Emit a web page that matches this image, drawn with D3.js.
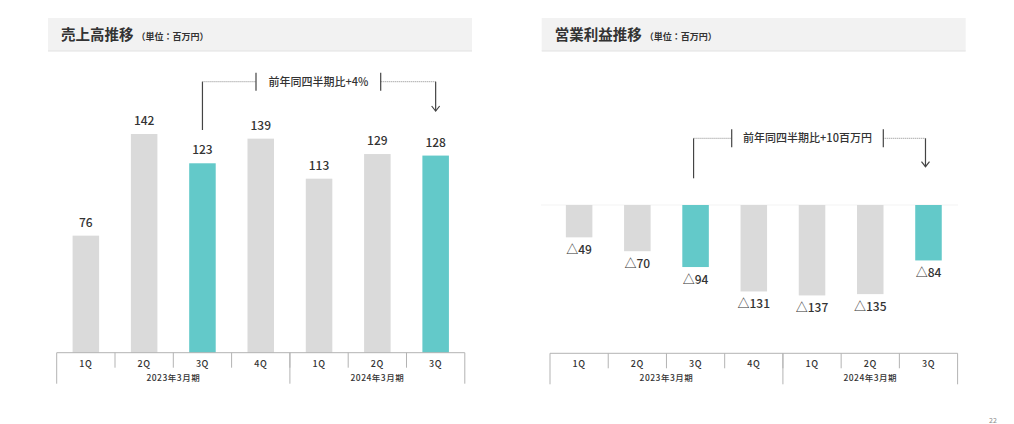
<!DOCTYPE html>
<html>
<head>
<meta charset="utf-8">
<script src="https://cdn.jsdelivr.net/npm/d3@7"></script>
<style>
  body { margin: 0; background: #fff; }
  svg text { font-family: "Noto Sans CJK JP", "Noto Sans", sans-serif; fill: #333; }
</style>
</head>
<body>
<svg id="chart" width="1014" height="424"></svg>
<script>
const quarters = ['1Q', '2Q', '3Q', '4Q', '1Q', '2Q', '3Q'];
const fiscalYears = ['2023年3月期', '2024年3月期'];
const fiscalYearQuarterCounts = [4, 3];
const sales = [76, 142, 123, 139, 113, 129, 128];
const operatingIncome = [-49, -70, -94, -131, -137, -135, -84];
const highlighted = [2, 6];

const grayBar = "#dadada";
const tealBar = "#63c9c9";
const axisColor = "#b3b3b3";

const svg = d3.select("#chart");

function drawHeader(x0, x1, title, unit) {
    const g = svg.append("g");
    g.append("rect")
        .attr("x", x0).attr("y", 18)
        .attr("width", x1 - x0).attr("height", 33)
        .attr("fill", "#f2f2f2");
    g.append("line")
        .attr("x1", x0).attr("x2", x1)
        .attr("y1", 51).attr("y2", 51)
        .attr("stroke", "#e2e2e2").attr("stroke-width", 1.2);
    const t = g.append("text")
        .attr("x", x0 + 13).attr("y", 40);
    t.append("tspan")
        .style("font-size", "14.5px").style("font-weight", "bold")
        .text(title);
    t.append("tspan")
        .attr("dx", 3)
        .style("font-size", "9px").style("font-weight", "bold")
        .text(unit);
}

function drawCategoryAxis(x, axisY) {
    const g = svg.append("g");
    const [r0, r1] = x.range();
    g.append("line")
        .attr("x1", r0).attr("x2", r1)
        .attr("y1", axisY).attr("y2", axisY)
        .attr("stroke", axisColor).attr("stroke-width", 1);

    // small separators between quarters
    quarters.forEach((q, i) => {
        if (i === 0) return;
        g.append("line")
            .attr("x1", x(i)).attr("x2", x(i))
            .attr("y1", axisY).attr("y2", axisY + 15)
            .attr("stroke", axisColor);
    });

    // long separators at fiscal-year borders
    let start = 0;
    const borders = [0];
    fiscalYearQuarterCounts.forEach(c => { start += c; borders.push(start); });
    borders.forEach(b => {
        const bx = b === quarters.length ? r1 : x(b);
        g.append("line")
            .attr("x1", bx).attr("x2", bx)
            .attr("y1", axisY).attr("y2", axisY + 31)
            .attr("stroke", axisColor);
    });

    g.selectAll(".q-label")
        .data(quarters)
        .enter()
        .append("text")
        .attr("class", "q-label")
        .attr("x", (d, i) => x(i) + x.bandwidth() / 2)
        .attr("y", axisY + 14)
        .attr("text-anchor", "middle")
        .style("font-size", "9px")
        .style("font-weight", "500")
        .style("letter-spacing", "0.6px")
        .text(d => d);

    fiscalYears.forEach((fy, i) => {
        const a = borders[i];
        const b = borders[i + 1];
        const xa = x(a);
        const xb = b === quarters.length ? r1 : x(b);
        g.append("text")
            .attr("x", (xa + xb) / 2)
            .attr("y", axisY + 28)
            .attr("text-anchor", "middle")
            .style("font-size", "8.5px")
            .style("font-weight", "500")
            .style("letter-spacing", "0.5px")
            .text(fy);
    });
}

function drawAnnotation(xFrom, xTo, lineY, leftBottom, arrowBottom, tick1, tick2, label) {
    const g = svg.append("g");
    g.append("line")
        .attr("x1", xFrom).attr("x2", xFrom)
        .attr("y1", lineY).attr("y2", leftBottom)
        .attr("stroke", "#444").attr("stroke-width", 1.2);
    g.append("line")
        .attr("x1", xFrom).attr("x2", tick1)
        .attr("y1", lineY).attr("y2", lineY)
        .attr("stroke", "#888").attr("stroke-width", 1)
        .attr("stroke-dasharray", "1,1");
    g.append("line")
        .attr("x1", tick2).attr("x2", xTo)
        .attr("y1", lineY).attr("y2", lineY)
        .attr("stroke", "#888").attr("stroke-width", 1)
        .attr("stroke-dasharray", "1,1");
    [tick1, tick2].forEach(tx => {
        g.append("line")
            .attr("x1", tx).attr("x2", tx)
            .attr("y1", lineY - 9).attr("y2", lineY + 9)
            .attr("stroke", "#444").attr("stroke-width", 1.2);
    });
    g.append("line")
        .attr("x1", xTo).attr("x2", xTo)
        .attr("y1", lineY).attr("y2", arrowBottom)
        .attr("stroke", "#444").attr("stroke-width", 1.2);
    g.append("path")
        .attr("d", `M${xTo - 4},${arrowBottom - 5} L${xTo},${arrowBottom} L${xTo + 4},${arrowBottom - 5}`)
        .attr("fill", "none")
        .attr("stroke", "#444").attr("stroke-width", 1.2);
    g.append("text")
        .attr("x", (tick1 + tick2) / 2)
        .attr("y", lineY + 4)
        .attr("text-anchor", "middle")
        .style("font-size", "11px")
        .style("font-weight", "500")
        .text(label);
}

// ---- left chart: sales ----
drawHeader(48, 472, "売上高推移", "（単位：百万円）");

const xL = d3.scaleBand()
    .domain(d3.range(quarters.length))
    .range([56.7, 464.8])
    .padding(0);
const yL = d3.scaleLinear()
    .domain([0, 150])
    .range([352.7, 352.7 - 150 * 1.54]);

const barW = xL.bandwidth() * 0.455;

svg.append("g").selectAll("rect")
    .data(sales)
    .enter()
    .append("rect")
    .attr("x", (d, i) => xL(i) + (xL.bandwidth() - barW) / 2)
    .attr("y", d => yL(d))
    .attr("width", barW)
    .attr("height", d => yL(0) - yL(d))
    .attr("fill", (d, i) => highlighted.includes(i) ? tealBar : grayBar);

svg.append("g").selectAll("text")
    .data(sales)
    .enter()
    .append("text")
    .attr("x", (d, i) => xL(i) + xL.bandwidth() / 2)
    .attr("y", d => yL(d) - 9)
    .attr("text-anchor", "middle")
    .style("font-size", "12px")
    .style("font-weight", "500")
    .text(d => d);

drawCategoryAxis(xL, 352.7);

drawAnnotation(
    xL(2) + xL.bandwidth() / 2, xL(6) + xL.bandwidth() / 2,
    81.7, 130, 111, 256, 380.7, "前年同四半期比+4%"
);

// ---- right chart: operating income ----
drawHeader(541.7, 965.7, "営業利益推移", "（単位：百万円）");

const xR = d3.scaleBand()
    .domain(d3.range(quarters.length))
    .range([550, 957.6])
    .padding(0);
const yR = d3.scaleLinear()
    .domain([-200, 0])
    .range([205 + 200 * 0.66, 205]);

svg.append("line")
    .attr("x1", 541).attr("x2", 958)
    .attr("y1", yR(0)).attr("y2", yR(0))
    .attr("stroke", "#f3f3f3").attr("stroke-width", 1);

svg.append("g").selectAll("rect")
    .data(operatingIncome)
    .enter()
    .append("rect")
    .attr("x", (d, i) => xR(i) + (xR.bandwidth() - barW) / 2)
    .attr("y", yR(0))
    .attr("width", barW)
    .attr("height", d => yR(d) - yR(0))
    .attr("fill", (d, i) => highlighted.includes(i) ? tealBar : grayBar);

svg.append("g").selectAll("text")
    .data(operatingIncome)
    .enter()
    .append("text")
    .attr("x", (d, i) => xR(i) + xR.bandwidth() / 2)
    .attr("y", d => yR(d) + 17)
    .attr("text-anchor", "middle")
    .style("font-size", "12px")
    .style("font-weight", "500")
    .text(d => "△" + Math.abs(d));

drawCategoryAxis(xR, 353.3);

drawAnnotation(
    xR(2) + xR.bandwidth() / 2 - 2, xR(6) + xR.bandwidth() / 2 - 3,
    138.3, 178.3, 166.7, 731.7, 883.3, "前年同四半期比+10百万円"
);

// page number
svg.append("text")
    .attr("x", 993).attr("y", 423)
    .attr("text-anchor", "middle")
    .style("font-size", "7px")
    .style("fill", "#888")
    .text("22");
</script>
</body>
</html>
